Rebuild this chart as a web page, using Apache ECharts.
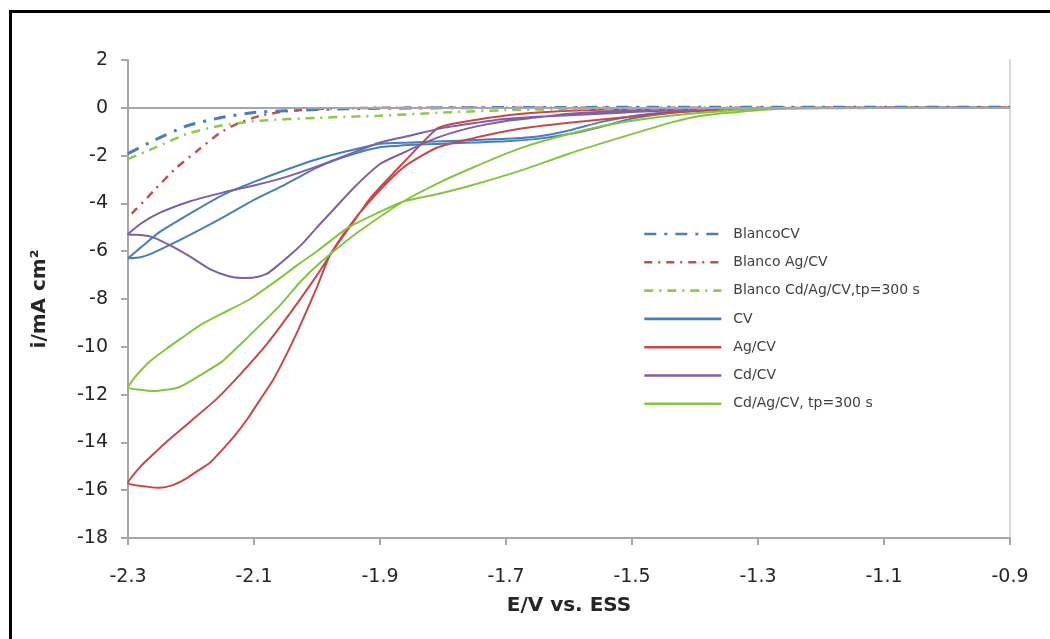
<!DOCTYPE html>
<html>
<head>
<meta charset="utf-8">
<script src="https://cdn.jsdelivr.net/npm/echarts@6/dist/echarts.min.js"></script>
<style>
html,body{margin:0;padding:0;background:#fff;}
#chart{width:1050px;height:639px;}
</style>
</head>
<body>
<div id="chart"></div>
<script>
// ---- data (E in V vs ESS, i in mA cm^-2) ----
const blancoCV_E = [-2.3, -2.26, -2.206, -2.154, -2.1, -2.05, -1.95, -1.8, -1.5, -1.2, -0.9];
const blancoCV_I = [-1.92, -1.38, -0.75, -0.42, -0.2, -0.12, -0.04, 0, 0.02, 0.02, 0.02];

const blancoAg_E = [-2.294, -2.26, -2.225, -2.19, -2.154, -2.127, -2.09, -2.05, -2.0, -1.9, -1.5, -0.9];
const blancoAg_I = [-4.43, -3.5, -2.55, -1.8, -1.05, -0.67, -0.33, -0.15, -0.05, 0, 0, 0];

const blancoCdAg_E = [-2.3, -2.26, -2.206, -2.154, -2.09, -2.0, -1.9, -1.8, -1.7, -1.6, -1.4, -1.05];
const blancoCdAg_I = [-2.15, -1.7, -1.09, -0.75, -0.54, -0.42, -0.33, -0.2, -0.1, -0.05, -0.02, 0];

const cv_E = [-0.9, -1.1, -1.3, -1.4, -1.45, -1.5, -1.55, -1.6, -1.65, -1.7, -1.75, -1.8, -1.85, -1.9, -1.95, -2.0, -2.05, -2.1, -2.15, -2.2, -2.25, -2.28, -2.3,
              -2.28, -2.26, -2.2, -2.15, -2.1, -2.05, -2.0, -1.95, -1.9, -1.85, -1.8, -1.75, -1.7, -1.65, -1.6, -1.55, -1.5, -1.45, -1.4, -1.3, -1.1, -0.9];
const cv_I = [0, 0, -0.02, -0.1, -0.2, -0.35, -0.6, -0.95, -1.2, -1.3, -1.35, -1.4, -1.45, -1.5, -1.8, -2.15, -2.6, -3.1, -3.65, -4.4, -5.2, -5.85, -6.3,
              -6.25, -6.07, -5.3, -4.6, -3.85, -3.2, -2.5, -2.0, -1.65, -1.55, -1.5, -1.45, -1.4, -1.3, -1.1, -0.8, -0.45, -0.25, -0.12, -0.03, 0, 0];

const ag_E = [-0.9, -1.2, -1.3, -1.35, -1.44, -1.52, -1.6, -1.678, -1.757, -1.81, -1.863, -1.916, -1.95, -1.98, -2.0, -2.03, -2.05, -2.07, -2.09, -2.11, -2.13, -2.15, -2.17, -2.19, -2.21, -2.23, -2.25, -2.27, -2.3,
              -2.28, -2.26, -2.24, -2.2, -2.16, -2.12, -2.08, -2.04, -2.0, -1.97, -1.94, -1.916, -1.863, -1.81, -1.79, -1.757, -1.7, -1.65, -1.6, -1.5, -1.2, -0.9];
const ag_I = [0, 0, -0.02, -0.08, -0.21, -0.42, -0.63, -0.88, -1.3, -1.67, -2.5, -3.9, -5.0, -6.2, -7.5, -9.3, -10.4, -11.4, -12.2, -13.0, -13.7, -14.3, -14.85, -15.2, -15.55, -15.8, -15.9, -15.85, -15.7,
              -15.0, -14.5, -14.0, -13.1, -12.2, -11.1, -9.9, -8.5, -7.0, -5.8, -4.7, -3.8, -2.3, -0.88, -0.7, -0.54, -0.32, -0.2, -0.12, -0.05, 0, 0];

const cd_E = [-0.9, -1.2, -1.3, -1.4, -1.5, -1.55, -1.6, -1.65, -1.7, -1.75, -1.8, -1.85, -1.9, -1.95, -2.0, -2.05, -2.1, -2.15, -2.2, -2.25, -2.28, -2.3,
              -2.28, -2.26, -2.23, -2.2, -2.17, -2.14, -2.12, -2.1, -2.08, -2.06, -2.04, -2.02, -2.0, -1.97, -1.94, -1.9, -1.863, -1.81, -1.757, -1.7, -1.65, -1.6, -1.5, -1.4, -1.2, -0.9];
const cd_I = [0, 0, -0.02, -0.07, -0.18, -0.25, -0.31, -0.37, -0.46, -0.64, -0.84, -1.15, -1.45, -1.95, -2.45, -2.9, -3.25, -3.55, -3.9, -4.4, -4.85, -5.3,
              -5.32, -5.42, -5.8, -6.25, -6.75, -7.05, -7.12, -7.1, -6.95, -6.55, -6.1, -5.6, -5.0, -4.15, -3.3, -2.35, -1.88, -1.26, -0.84, -0.55, -0.4, -0.25, -0.1, -0.03, 0, 0];

const cdAg_E = [-0.9, -1.05, -1.2, -1.25, -1.3, -1.39, -1.44, -1.52, -1.6, -1.678, -1.757, -1.81, -1.863, -1.9, -1.95, -2.0, -2.027, -2.06, -2.106, -2.15, -2.186, -2.213, -2.24, -2.265, -2.28, -2.29, -2.3,
                -2.28, -2.26, -2.22, -2.186, -2.15, -2.106, -2.06, -2.027, -2.0, -1.95, -1.916, -1.863, -1.81, -1.757, -1.678, -1.6, -1.52, -1.44, -1.35, -1.3, -1.2, -1.05, -0.9];
const cdAg_I = [0, 0, -0.01, -0.03, -0.1, -0.33, -0.63, -1.26, -1.92, -2.64, -3.26, -3.62, -3.92, -4.35, -5.0, -6.0, -6.5, -7.15, -8.0, -8.6, -9.1, -9.6, -10.1, -10.6, -11.0, -11.3, -11.7,
                -11.8, -11.85, -11.7, -11.2, -10.6, -9.5, -8.3, -7.3, -6.6, -5.5, -4.85, -3.92, -3.18, -2.55, -1.7, -1.1, -0.63, -0.33, -0.12, -0.05, -0.02, 0, 0];

const xTicks = [-2.3, -2.1, -1.9, -1.7, -1.5, -1.3, -1.1, -0.9];
const yTicks = [2, 0, -2, -4, -6, -8, -10, -12, -14, -16, -18];

const seriesNames = ['BlancoCV', 'Blanco Ag/CV', 'Blanco Cd/Ag/CV,tp=300 s', 'CV', 'Ag/CV', 'Cd/CV', 'Cd/Ag/CV, tp=300 s'];

function zip(E, I) { return E.map((e, k) => [e, I[k]]); }

const chart = echarts.init(document.getElementById('chart'));
const axisGray = '#A6A6A6';
const font = 'DejaVu Sans';

const defs = [
  { name: seriesNames[3], data: zip(cv_E, cv_I), color: '#4A7EBB', width: 2, type: 'solid' },
  { name: seriesNames[4], data: zip(ag_E, ag_I), color: '#C8474A', width: 2, type: 'solid' },
  { name: seriesNames[5], data: zip(cd_E, cd_I), color: '#7D60A6', width: 2, type: 'solid' },
  { name: seriesNames[6], data: zip(cdAg_E, cdAg_I), color: '#86C440', width: 2, type: 'solid' },
  { name: seriesNames[2], data: zip(blancoCdAg_E, blancoCdAg_I), color: '#8CCB4A', width: 2.5, type: [9, 6, 2, 6] },
  { name: seriesNames[1], data: zip(blancoAg_E, blancoAg_I), color: '#C0504D', width: 2.5, type: [8, 6, 2, 6] },
  { name: seriesNames[0], data: zip(blancoCV_E, blancoCV_I), color: '#4A7EBB', width: 3, type: [12, 8, 3, 8] }
];

const series = defs.map(d => ({
  name: d.name,
  type: 'line',
  data: d.data,
  showSymbol: false,
  symbol: 'none',
  smooth: 0.2,
  silent: true,
  color: d.color,
  lineStyle: { color: d.color, width: d.width, type: d.type },
  z: 3
}));

// zero line
series.push({
  type: 'line', data: [], silent: true,
  markLine: {
    silent: true, symbol: ['none', 'none'], label: { show: false },
    lineStyle: { color: axisGray, width: 2, type: 'solid' },
    data: [{ yAxis: 0 }]
  },
  z: 1
});

chart.setOption({
  animation: false,
  backgroundColor: '#fff',
  grid: { left: 128, right: 40, top: 60, bottom: 101, containLabel: false },
  graphic: [{
    type: 'rect', left: 8, top: 9,
    shape: { x: 0, y: 0, width: 1100, height: 700 },
    style: { fill: 'none', stroke: '#000', lineWidth: 3 },
    silent: true, z: 100
  }],
  legend: {
    orient: 'vertical',
    left: 643, top: 227, padding: 0,
    itemWidth: 77, itemHeight: 14, itemGap: 14.3,
    data: seriesNames,
    itemStyle: { opacity: 0, borderWidth: 0 },
    lineStyle: { width: 2.6 },
    textStyle: { fontFamily: font, fontSize: 14, color: '#404040', padding: [0, 0, 0, 7] }
  },
  xAxis: {
    type: 'value', min: -2.3, max: -0.9, interval: 0.2,
    name: 'E/V vs. ESS', nameLocation: 'middle', nameGap: 58,
    nameTextStyle: { fontFamily: font, fontSize: 20, fontWeight: 'bold', color: '#262626' },
    axisLine: { show: true, onZero: false, lineStyle: { color: axisGray, width: 2 } },
    axisTick: { show: true, length: 7, inside: false, lineStyle: { color: axisGray, width: 2 } },
    axisLabel: { margin: 30, fontFamily: font, fontSize: 19, color: '#262626',
      formatter: v => { const t = xTicks.find(x => Math.abs(x - v) < 1e-6); return t === undefined ? '' : t.toFixed(1); } },
    splitLine: { show: false }
  },
  yAxis: [{
    type: 'value', min: -18, max: 2, interval: 2,
    name: 'i/mA cm\u00B2', nameLocation: 'middle', nameGap: 78, nameRotate: 90,
    nameTextStyle: { fontFamily: font, fontSize: 20, fontWeight: 'bold', color: '#262626' },
    axisLine: { show: true, onZero: false, lineStyle: { color: axisGray, width: 2 } },
    axisTick: { show: true, length: 7, inside: false, lineStyle: { color: axisGray, width: 2 } },
    axisLabel: { margin: 20, fontFamily: font, fontSize: 19, color: '#262626',
      formatter: v => { const t = yTicks.find(y => Math.abs(y - v) < 1e-6); return t === undefined ? '' : String(t); } },
    splitLine: { show: false }
  }, {
    type: 'value', min: -18, max: 2, interval: 2, position: 'right',
    axisLine: { show: true, onZero: false, lineStyle: { color: '#D9D9D9', width: 2 } },
    axisTick: { show: false }, axisLabel: { show: false }, splitLine: { show: false }
  }],
  series: series
});
</script>
</body>
</html>
